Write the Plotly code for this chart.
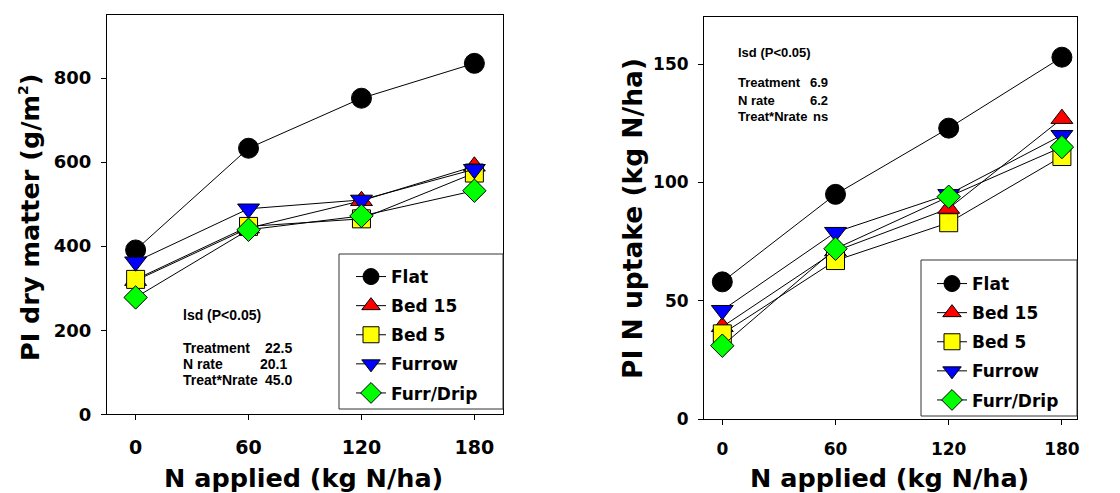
import plotly.graph_objects as go

# N application rates (kg N/ha)
n_rate = [0, 60, 120, 180]

treatments = ["Flat", "Bed 15", "Bed 5", "Furrow", "Furr/Drip"]

# PI dry matter (g/m2)
dm_flat = [391, 633, 752, 835]
dm_bed15 = [318, 443, 508, 590]
dm_bed5 = [321, 447, 465, 574]
dm_furrow = [363, 489, 510, 583]
dm_furrdrip = [278, 439, 472, 532]

# PI N uptake (kg N/ha)
nu_flat = [58, 95, 123, 153]
nu_bed15 = [39, 71, 89, 127]
nu_bed5 = [36, 67, 83, 111]
nu_furrow = [46, 79, 95, 120]
nu_furrdrip = [31, 72, 94, 115]

# lsd (P<0.05) tables
lsd_labels = ["Treatment", "N rate", "Treat*Nrate"]
lsd_dm = ["22.5", "20.1", "45.0"]
lsd_nu = ["6.9", "6.2", "ns"]

styles = {
    "Flat": dict(symbol="circle", color="#000000", size=20),
    "Bed 15": dict(symbol="triangle-up", color="#FF0000", size=19),
    "Bed 5": dict(symbol="square", color="#FFFF00", size=18),
    "Furrow": dict(symbol="triangle-down", color="#0000FF", size=19),
    "Furr/Drip": dict(symbol="diamond", color="#00FF00", size=18),
}

W, H = 1120, 493


def px(x):
    return x / W


def py(y):
    return 1 - y / H


fig = go.Figure()

panels = [
    ("x", "y", "legend", [dm_flat, dm_bed15, dm_bed5, dm_furrow, dm_furrdrip]),
    ("x2", "y2", "legend2", [nu_flat, nu_bed15, nu_bed5, nu_furrow, nu_furrdrip]),
]
for xa, ya, lg, series in panels:
    for name, vals in zip(treatments, series):
        st = styles[name]
        fig.add_trace(go.Scatter(
            x=n_rate, y=vals, name=name, xaxis=xa, yaxis=ya, legend=lg,
            legendgroup=lg + name,
            mode="lines+markers",
            line=dict(color="#000000", width=1),
            marker=dict(symbol=st["symbol"], size=st["size"], color=st["color"],
                        line=dict(color="#000000", width=1)),
        ))


def bold(size, family="DejaVu Sans"):
    return dict(family=family, size=size, color="#000000", weight="bold")


axis_common = dict(showline=True, linecolor="#000000", linewidth=1, mirror=True,
                   ticks="outside", ticklen=5, tickcolor="#000000", showgrid=False,
                   zeroline=False, automargin=False)

legend_common = dict(
    bgcolor="rgba(0,0,0,0)", borderwidth=0,
    font=bold(17),
    traceorder="grouped", tracegroupgap=4, itemsizing="trace",
    xanchor="left", yanchor="bottom",
)

fig.update_layout(
    width=W, height=H,
    margin=dict(l=0, r=0, t=0, b=0),
    paper_bgcolor="#FFFFFF", plot_bgcolor="#FFFFFF",
    xaxis=dict(domain=[px(107), px(503)], range=[-15.2, 195.2],
               tickvals=n_rate, tickfont=bold(19), ticklabelstandoff=11,
               anchor="y", **axis_common),
    yaxis=dict(domain=[py(414.3), py(15)], range=[0, 950],
               tickvals=[0, 200, 400, 600, 800], tickfont=bold(18),
               ticklabelstandoff=6, anchor="x", **axis_common),
    xaxis2=dict(domain=[px(704), px(1077)], range=[-9.7, 188.0],
                tickvals=n_rate, tickfont=bold(17), ticklabelstandoff=10,
                anchor="y2", **axis_common),
    yaxis2=dict(domain=[py(419), py(17)], range=[0, 170],
                tickvals=[0, 50, 100, 150], tickfont=bold(17),
                ticklabelstandoff=6, anchor="x2", **axis_common),
    legend=dict(x=px(351), y=py(411), **legend_common),
    legend2=dict(x=px(932), y=py(418), **legend_common),
    showlegend=True,
    shapes=[
        dict(type="rect", xref="paper", yref="paper",
             x0=px(339), x1=px(503), y0=py(409), y1=py(254),
             line=dict(color="#333333", width=1), fillcolor="#FFFFFF", layer="above"),
        dict(type="rect", xref="paper", yref="paper",
             x0=px(921), x1=px(1077), y0=py(416), y1=py(260),
             line=dict(color="#333333", width=1), fillcolor="#FFFFFF", layer="above"),
    ],
)

ann = []
ann.append(dict(text="PI dry matter (g/m<sup><span style='font-size:14px'>2</span></sup>)",
                x=px(30), y=py(217), textangle=-90, font=bold(25.5)))
ann.append(dict(text="PI N uptake (kg N/ha)", x=px(632), y=py(219),
                textangle=-90, font=bold(26.5)))
ann.append(dict(text="N applied (kg N/ha)", x=px(303), y=py(478), font=bold(25.5)))
ann.append(dict(text="N applied (kg N/ha)", x=px(889), y=py(478), font=bold(25.5)))

lsd_l = bold(14, "Liberation Sans")
lsd_r = bold(13, "Liberation Sans")
# left panel lsd block
ann.append(dict(text="lsd (P<0.05)", x=px(181), y=py(315), xanchor="left", font=lsd_l))
for lab, val, yy, xr in zip(lsd_labels, lsd_dm, [348, 364, 380], [294, 289, 294]):
    ann.append(dict(text=lab, x=px(181), y=py(yy), xanchor="left", font=lsd_l))
    ann.append(dict(text=val, x=px(xr), y=py(yy), xanchor="right", font=lsd_l))
# right panel lsd block
ann.append(dict(text="lsd (P<0.05)", x=px(736), y=py(52), xanchor="left", font=lsd_r))
for lab, val, yy in zip(lsd_labels, lsd_nu, [83, 100, 116]):
    ann.append(dict(text=lab, x=px(736), y=py(yy), xanchor="left", font=lsd_r))
    ann.append(dict(text=val, x=px(830), y=py(yy), xanchor="right", font=lsd_r))

for a in ann:
    a.update(xref="paper", yref="paper", showarrow=False)
    a.setdefault("xanchor", "center")
    a.setdefault("yanchor", "middle")
fig.update_layout(annotations=ann)

fig.write_html("out.html")
